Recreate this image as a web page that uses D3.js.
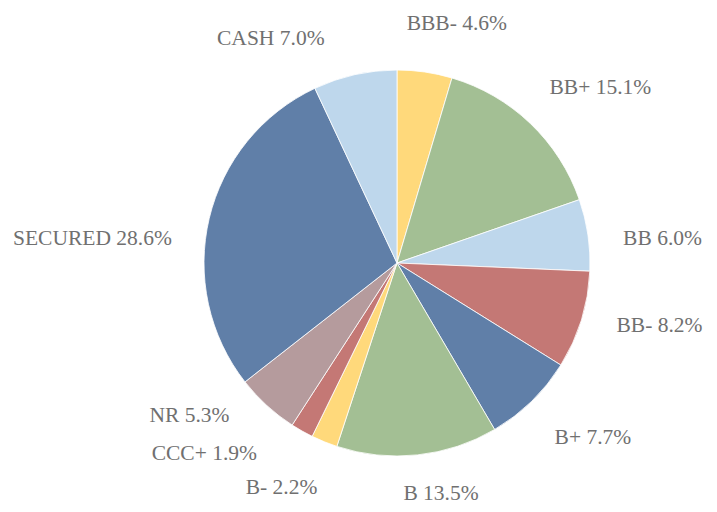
<!DOCTYPE html>
<html>
<head>
<meta charset="utf-8">
<script src="https://cdn.jsdelivr.net/npm/d3@7"></script>
<style>
  html, body { margin: 0; padding: 0; background: #fff; }
  svg { display: block; }
</style>
</head>
<body>
<div id="chart"></div>
<script>
// Data for the pie
const categories = ["BBB-", "BB+", "BB", "BB-", "B+", "B", "B-", "CCC+", "NR", "SECURED", "CASH"];
const values = [4.6, 15.1, 6.0, 8.2, 7.7, 13.5, 2.2, 1.9, 5.3, 28.6, 7.0];
const colors = ["#FFD97B", "#A3BF94", "#BED7EC", "#C47875", "#607FA8", "#A3BF94",
                "#FFD97B", "#C47875", "#B59B9D", "#607FA8", "#BED7EC"];

// Label nudges away from the radial point (layout only)
const labelNudge = [[26, -7], [41, -6], [33, 9], [38, -7], [32, 6], [19, -4],
                    [-27, 6], [-77, -15], [-49, -21], [-76, 29], [-75, 4]];

const width = 717, height = 512;
const cx = 397, cy = 263, radius = 193;

const svg = d3.select("#chart")
    .append("svg")
    .attr("width", width)
    .attr("height", height);

const g = svg.append("g")
    .attr("transform", `translate(${cx},${cy})`);

const pie = d3.pie().sort(null).value(d => d.value);
const arc = d3.arc().innerRadius(0).outerRadius(radius);
const labelArc = d3.arc().innerRadius(235).outerRadius(235);

const data = categories.map((c, i) => ({ name: c, value: values[i], color: colors[i] }));
const arcs = pie(data);

g.selectAll(".slice")
    .data(arcs)
    .enter()
    .append("path")
    .attr("class", "slice")
    .attr("d", arc)
    .attr("fill", d => d.data.color)
    .attr("stroke", "#fff")
    .attr("stroke-width", 0.8);

g.selectAll(".label")
    .data(arcs)
    .enter()
    .append("text")
    .attr("class", "label")
    .attr("x", (d, i) => labelArc.centroid(d)[0] + labelNudge[i][0])
    .attr("y", (d, i) => labelArc.centroid(d)[1] + labelNudge[i][1])
    .attr("text-anchor", "middle")
    .attr("dominant-baseline", "central")
    .attr("font-family", "'Palatino Linotype', Palatino, 'Book Antiqua', 'Liberation Serif', serif")
    .attr("font-size", "21.5px")
    .attr("fill", "#707070")
    .text(d => `${d.data.name} ${d.data.value.toFixed(1)}%`);
</script>
</body>
</html>
